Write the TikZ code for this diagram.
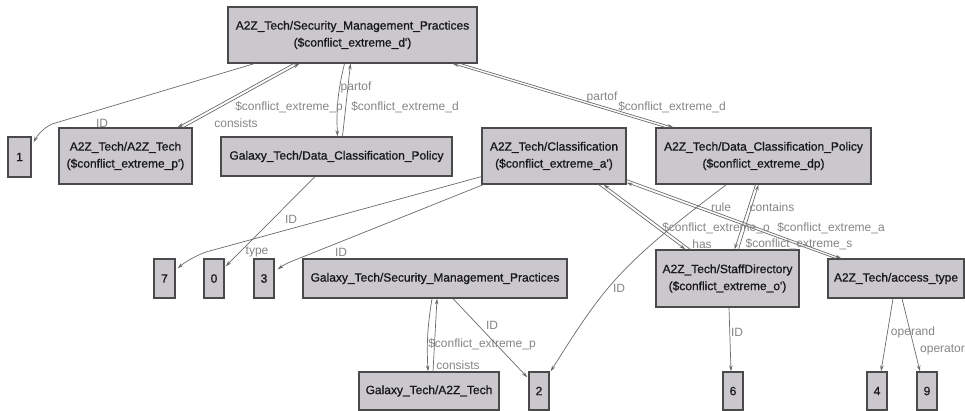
\documentclass[tikz,border=0pt]{standalone}
\usepackage{fontspec}
\setmainfont{Liberation Sans}
\newfontfamily\boxfont[FakeBold=0.9]{Liberation Sans}
\usetikzlibrary{arrows.meta,calc}
\definecolor{boxfill}{HTML}{CBC8CD}
\definecolor{boxdraw}{HTML}{4A4A4A}
\definecolor{edgecol}{HTML}{6A6A6A}
\definecolor{labcol}{HTML}{858585}
\begin{document}
\begin{tikzpicture}[x=1pt,y=-1pt,
  box/.style={draw=boxdraw, fill=boxfill, line width=1.2pt, inner sep=0pt, align=center,
    font=\boxfont\fontsize{12}{17}\selectfont, text=black!90},
  edge/.style={draw=edgecol, line width=0.7pt, -{Stealth[length=6pt,width=3.5pt]}},
  lab/.style={text=labcol, font=\fontsize{12}{14}\selectfont, inner sep=0pt}]
\useasboundingbox (0,0) rectangle (965,411);

% nodes
\node[box, minimum width=249pt, minimum height=56pt] (top) at (352.5,35) {A2Z\_Tech/Security\_Management\_Practices\\(\$conflict\_extreme\_d')};
\node[box, minimum width=23pt, minimum height=40pt] (n1) at (19.5,157) {1};
\node[box, minimum width=133pt, minimum height=56pt] (a2z) at (125.5,156) {A2Z\_Tech/A2Z\_Tech\\(\$conflict\_extreme\_p')};
\node[box, minimum width=231pt, minimum height=39pt] (gdcp) at (336.5,156.5) {Galaxy\_Tech/Data\_Classification\_Policy};
\node[box, minimum width=144pt, minimum height=56pt] (cls) at (554,156) {A2Z\_Tech/Classification\\(\$conflict\_extreme\_a')};
\node[box, minimum width=215pt, minimum height=56pt] (adcp) at (763.5,156) {A2Z\_Tech/Data\_Classification\_Policy\\(\$conflict\_extreme\_dp)};
\node[box, minimum width=21pt, minimum height=39pt] (n7) at (164.5,278.5) {7};
\node[box, minimum width=20pt, minimum height=39pt] (n0) at (214,278.5) {0};
\node[box, minimum width=20pt, minimum height=39pt] (n3) at (264,278.5) {3};
\node[box, minimum width=264pt, minimum height=39pt] (gsmp) at (435,278.5) {Galaxy\_Tech/Security\_Management\_Practices};
\node[box, minimum width=140pt, minimum height=38pt] (ga2z) at (429,391) {Galaxy\_Tech/A2Z\_Tech};
\node[box, minimum width=20pt, minimum height=38pt] (n2) at (539,391) {2};
\node[box, minimum width=143pt, minimum height=57pt] (staff) at (727.5,278.5) {A2Z\_Tech/StaffDirectory\\(\$conflict\_extreme\_o')};
\node[box, minimum width=136pt, minimum height=39pt] (acc) at (896,278.5) {A2Z\_Tech/access\_type};
\node[box, minimum width=20pt, minimum height=38pt] (n6) at (733,391) {6};
\node[box, minimum width=20pt, minimum height=38pt] (n4) at (877,391) {4};
\node[box, minimum width=20pt, minimum height=38pt] (n9) at (927,391) {9};

% edges
\draw[edge] ($(top.south west)+(27,0)$) -- (52,124) .. controls (42,129) and (37,136) .. ($(n1.north east)+(2,6)$);
\draw[edge] ($(top.south west)+(66,0)$) -- ($(a2z.north east)+(-15,0)$);
\draw[edge] ($(a2z.north east)+(-9,0)$) -- ($(top.south west)+(72,0)$);
\draw[edge] ($(top.south)+(-8,0)$) to[bend right=8] ($(gdcp.north)+(1,0)$);
\draw[edge] ($(gdcp.north)+(6,0)$) -- ($(top.south)+(-2,0)$);
\draw[edge] ($(adcp.north west)+(10,0)$) -- ($(top.south east)+(-25,0)$);
\draw[edge] ($(top.south east)+(-17,0)$) -- ($(adcp.north west)+(18,0)$);
\draw[edge] ($(gdcp.south)+(-21.5,0)$) -- ($(n0.north east)+(1,8)$);
\draw[edge] ($(cls.south west)+(0,-8)$) -- (206,252) .. controls (195,256) and (185,262) .. ($(n7.north east)+(2,10)$);
\draw[edge] ($(cls.south west)+(2,0)$) -- (290,262) .. controls (285,264) and (281,267) .. ($(n3.north east)+(3,11)$);
\draw[edge] ($(gsmp.south)+(-3,0)$) to[bend right=6] ($(ga2z.north)+(-1,0)$);
\draw[edge] ($(ga2z.north)+(4,0)$) -- ($(gsmp.south)+(2,0)$);
\draw[edge] ($(gsmp.south)+(18,0)$) -- ($(n2.north west)+(-1,6)$);
\draw[edge] ($(adcp.south west)+(71,0)$) .. controls (620,265) and (605,285) .. ($(n2.north east)+(1,0)$);
\draw[edge] ($(adcp.south)+(-8,0)$) -- ($(staff.north)+(7,0)$);
\draw[edge] ($(staff.north)+(11,0)$) -- ($(adcp.south)+(-5,0)$);
\draw[edge] ($(cls.south east)+(-28,0)$) -- ($(staff.north west)+(30,0)$);
\draw[edge] ($(staff.north west)+(35,0)$) -- ($(cls.south east)+(-23,0)$);
\draw[edge] ($(cls.south east)+(0,-5)$) -- ($(acc.north west)+(14,0)$);
\draw[edge] ($(acc.north west)+(8,0)$) -- ($(cls.south east)+(0,-2)$);
\draw[edge] ($(acc.south)+(-3,0)$) -- ($(n4.north)+(4,0)$);
\draw[edge] ($(acc.south)+(6,0)$) -- ($(n9.north)+(-7,0)$);
\draw[edge] ($(staff.south)+(1.5,0)$) -- ($(n6.north)+(-2,0)$);

% labels
\node[lab] (l1) at (102,123) {ID};
\node[lab] (l2) at (289,107) {\$conflict\_extreme\_p};
\node[lab] (l3) at (236,123) {consists};
\node[lab] (l4) at (356,87) {partof};
\node[lab] (l5) at (405,107) {\$conflict\_extreme\_d};
\node[lab] (l6) at (602,97) {partof};
\node[lab] (l7) at (672,107) {\$conflict\_extreme\_d};
\node[lab] (l8) at (257,252) {type};
\node[lab] (l9) at (291,219) {ID};
\node[lab] (l10) at (341,252) {ID};
\node[lab] (l11) at (482,344) {\$conflict\_extreme\_p};
\node[lab] (l12) at (458,365) {consists};
\node[lab] (l13) at (492,325) {ID};
\node[lab] (l14) at (619,288) {ID};
\node[lab] (l15) at (721,207) {rule};
\node[lab] (l16) at (772,207) {contains};
\node[lab] (l17) at (716,228) {\$conflict\_extreme\_o};
\node[lab] (l18) at (831,228) {\$conflict\_extreme\_a};
\node[lab] (l19) at (702,244) {has};
\node[lab] (l20) at (799,244) {\$conflict\_extreme\_s};
\node[lab] (l21) at (737,332) {ID};
\node[lab] (l22) at (913,332) {operand};
\node[lab] (l23) at (942.5,350) {operator};
\end{tikzpicture}
\end{document}
